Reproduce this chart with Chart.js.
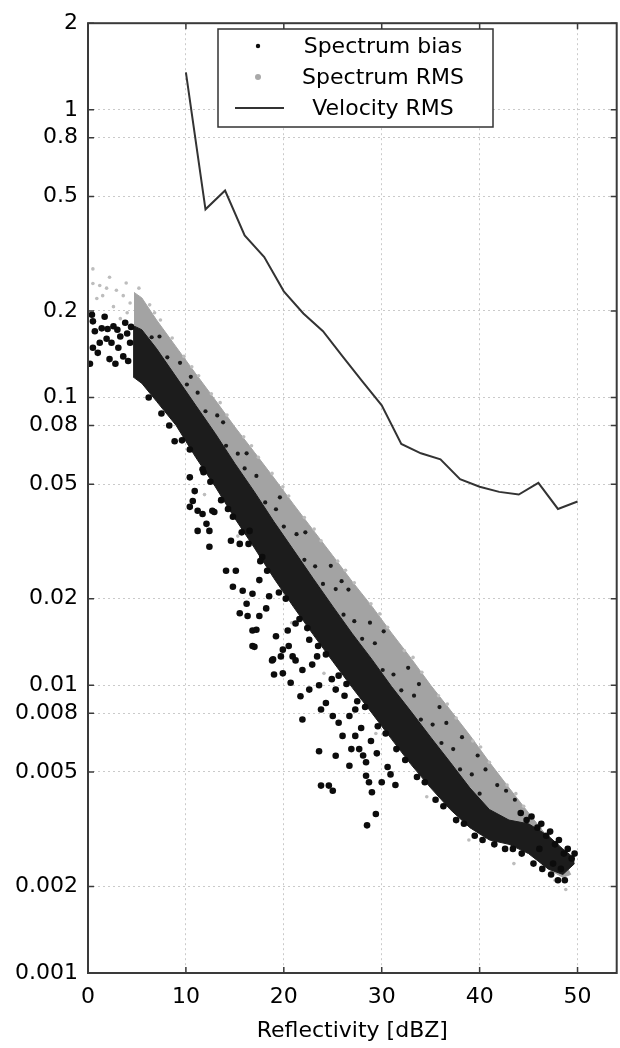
<!DOCTYPE html>
<html>
<head>
<meta charset="utf-8">
<title>Spectrum bias / RMS vs reflectivity</title>
<script src="https://cdn.jsdelivr.net/npm/chart.js@4.4.1/dist/chart.umd.min.js"></script>
<style>
  html, body { margin: 0; padding: 0; background: #fff; }
  canvas { display: block; }
</style>
</head>
<body>
<canvas id="chart" width="620" height="1048"></canvas>
<script>
// ---- axis ticks ----
const xTicks = [0, 10, 20, 30, 40, 50];
const yTicks = [2, 1, 0.8, 0.5, 0.2, 0.1, 0.08, 0.05, 0.02, 0.01, 0.008, 0.005, 0.002, 0.001];
const yTickLabels = ["2", "1", "0.8", "0.5", "0.2", "0.1", "0.08", "0.05", "0.02", "0.01", "0.008", "0.005", "0.002", "0.001"];

// ---- Velocity RMS (line) ----
const velX = [10, 12, 14, 16, 18, 20, 22, 24, 26, 28, 30, 32, 34, 36, 38, 40, 42, 44, 46, 48, 50];
const velY = [1.35, 0.451, 0.524, 0.366, 0.308, 0.234, 0.196, 0.170, 0.139, 0.114, 0.094, 0.069, 0.064, 0.061, 0.052, 0.049, 0.047, 0.046, 0.0505, 0.041, 0.0435];

// ---- Spectrum RMS: dense core of the cloud (upper / lower envelope) ----
const rmsEdgeX = [4.7, 5.5, 7, 9, 11, 13, 15, 17, 19, 21, 23, 25, 27, 29, 31, 33, 35, 37, 39, 41, 43, 45, 47, 48.5, 49.3];
const rmsTop = [0.232, 0.222, 0.186, 0.150, 0.121, 0.098, 0.079, 0.0645, 0.0525, 0.0425, 0.0346, 0.0282, 0.0229, 0.0188, 0.0152, 0.0124, 0.0100, 0.0082, 0.0067, 0.0054, 0.0044, 0.0036, 0.00295, 0.0025, 0.0022];
const rmsBottom = [0.18, 0.17, 0.14, 0.114, 0.091, 0.073, 0.058, 0.046, 0.037, 0.029, 0.023, 0.0184, 0.0147, 0.0119, 0.0096, 0.0078, 0.0063, 0.0052, 0.0042, 0.0035, 0.0029, 0.0026, 0.0023, 0.00215, 0.0022];

// loose light dots around the core [x, y]
const rmsDots = [
  [0.5, 0.28], [0.5, 0.249], [1.2, 0.245], [1.9, 0.24], [0.9, 0.221], [2.9, 0.236], [3.6, 0.226],
  [2.6, 0.207], [1.5, 0.226], [3.3, 0.188], [4.3, 0.213], [4.0, 0.197], [2.2, 0.262], [3.9, 0.25],
  [5.2, 0.240], [6.3, 0.210], [7.4, 0.186], [8.6, 0.161], [9.8, 0.139], [11.3, 0.119], [12.6, 0.103],
  [14.2, 0.087], [15.9, 0.073], [17.4, 0.062], [18.8, 0.0545], [20.5, 0.0455], [22.1, 0.0383],
  [23.8, 0.0318], [25.5, 0.027], [27.2, 0.0227], [28.9, 0.0192], [30.6, 0.0159], [32.3, 0.0132],
  [34.1, 0.0111], [35.8, 0.0092], [37.6, 0.0077], [39.3, 0.0064], [41.0, 0.0054], [42.8, 0.0045],
  [44.5, 0.0038], [46.2, 0.0032], [47.9, 0.0027], [47.7, 0.0021], [48.8, 0.00195],
  [6.8, 0.197], [10.6, 0.128], [13.5, 0.096], [16.7, 0.068], [19.9, 0.049], [23.1, 0.0349],
  [26.3, 0.0251], [29.8, 0.0177], [33.2, 0.0125], [36.7, 0.0086], [40.1, 0.0061], [43.7, 0.0042],
  [11.9, 0.046], [15.3, 0.033], [20.8, 0.0165], [24.1, 0.011], [29.4, 0.0068], [34.6, 0.0041],
  [38.9, 0.0029], [43.5, 0.0024]
];

// ---- Spectrum bias: dense core of the cloud ----
const biasEdgeX = [4.6, 5.5, 7, 9, 11, 13, 15, 17, 19, 21, 23, 25, 27, 29, 31, 33, 35, 37, 39, 41, 43, 45, 47, 48.5, 49.7];
const biasTop = [0.178, 0.172, 0.148, 0.118, 0.094, 0.075, 0.059, 0.047, 0.037, 0.0295, 0.0235, 0.0188, 0.0151, 0.0123, 0.0099, 0.0081, 0.0066, 0.0054, 0.0044, 0.0037, 0.0034, 0.0033, 0.003, 0.0027, 0.0025];
const biasBottom = [0.118, 0.112, 0.097, 0.080, 0.062, 0.049, 0.038, 0.030, 0.0235, 0.0187, 0.0150, 0.0121, 0.0098, 0.0080, 0.0065, 0.0053, 0.0044, 0.0037, 0.0032, 0.0029, 0.0028, 0.0026, 0.0023, 0.0022, 0.0024];

// points below 5 dBZ
const biasLeft = [
  [0.4, 0.194], [0.5, 0.184], [0.2, 0.131], [0.7, 0.170], [1.7, 0.191], [1.2, 0.155], [1.0, 0.143],
  [2.6, 0.177], [2.4, 0.155], [3.3, 0.163], [2.2, 0.136], [3.6, 0.139], [4.0, 0.167], [2.0, 0.173],
  [3.1, 0.149], [4.3, 0.155], [1.4, 0.174], [0.5, 0.149], [2.8, 0.131], [4.1, 0.134], [3.8, 0.182],
  [4.4, 0.176], [3.0, 0.172], [1.9, 0.160]
];
// scattered low values
const biasOutliers = [
  [8.85, 0.0705], [10.4, 0.0528], [10.9, 0.0473], [10.7, 0.0437], [10.4, 0.0417], [11.2, 0.0404],
  [11.7, 0.0394], [12.1, 0.0364], [12.7, 0.0404], [11.2, 0.0344], [12.4, 0.0344], [11.7, 0.0563],
  [12.9, 0.040], [12.4, 0.0303], [14.8, 0.0385], [14.6, 0.0318], [15.5, 0.031], [16.5, 0.0344],
  [14.1, 0.025], [15.1, 0.025], [14.8, 0.022], [15.8, 0.0213], [16.2, 0.0192], [15.5, 0.0178],
  [16.3, 0.0174], [16.8, 0.0155], [16.8, 0.0137], [17.5, 0.0174], [18.5, 0.0204], [19.2, 0.0148],
  [19.7, 0.0126], [18.8, 0.0122], [20.5, 0.0137], [21.2, 0.0122], [21.9, 0.0113], [19.9, 0.011],
  [22.6, 0.0144], [23.4, 0.0126], [21.2, 0.0164], [17.8, 0.0279], [17.5, 0.0232], [16.8, 0.0208],
  [17.2, 0.0156], [17.0, 0.0136], [18.9, 0.0123], [19.0, 0.0109], [19.9, 0.0133], [20.9, 0.0126],
  [20.7, 0.0102], [21.7, 0.00916], [21.9, 0.0076], [22.6, 0.00966], [23.6, 0.0100], [23.8, 0.00824],
  [24.3, 0.00868], [25.3, 0.00966], [25.0, 0.00782], [25.6, 0.00741], [26.0, 0.00667], [26.7, 0.00782],
  [27.3, 0.00824], [27.3, 0.00667], [23.6, 0.0059], [25.3, 0.00569], [26.7, 0.00525], [27.7, 0.0060],
  [28.4, 0.0054], [28.4, 0.00485], [28.7, 0.0046], [29.0, 0.00425], [29.4, 0.00357], [28.5, 0.00326],
  [30.0, 0.0046], [23.8, 0.00448], [25.0, 0.0043], [24.6, 0.00448], [26.2, 0.0092], [27.9, 0.0071],
  [28.9, 0.0064], [29.5, 0.0058], [30.6, 0.0052], [24.9, 0.0105], [22.9, 0.0118], [20.4, 0.0155],
  [18.2, 0.0185], [26.9, 0.0060], [28.1, 0.0057], [30.9, 0.0049], [31.4, 0.0045]
];
// ragged lower edge of the core
const biasEdge = [
  [6.2, 0.100], [7.5, 0.088], [8.3, 0.080], [9.6, 0.071], [10.4, 0.066], [11.8, 0.055], [12.5, 0.051],
  [13.6, 0.044], [14.3, 0.041], [15.7, 0.034], [16.4, 0.031], [17.6, 0.027], [18.3, 0.025], [19.5, 0.021],
  [20.2, 0.020], [21.6, 0.0170], [22.4, 0.0158], [23.5, 0.0137], [24.3, 0.0128], [25.6, 0.0108],
  [26.4, 0.0101], [27.5, 0.0088], [28.3, 0.0084], [29.6, 0.0072], [30.4, 0.0068], [31.5, 0.0060],
  [32.4, 0.0055], [33.6, 0.0048], [34.4, 0.0046], [35.5, 0.0040], [36.3, 0.0038], [37.6, 0.0034],
  [38.4, 0.0033], [39.5, 0.0030], [40.3, 0.0029], [41.5, 0.0028], [42.6, 0.0027], [43.4, 0.0027],
  [44.3, 0.0026], [45.5, 0.0024], [46.4, 0.0023], [47.3, 0.0022], [48.0, 0.0021], [48.7, 0.0021]
];
// end of the cloud, 44-50 dBZ
const biasTail = [
  [44.2, 0.0036], [44.8, 0.0034], [45.3, 0.0035], [45.9, 0.0032], [46.3, 0.0033], [46.8, 0.0030],
  [47.2, 0.0031], [47.7, 0.0028], [48.1, 0.0029], [48.6, 0.0026], [49.0, 0.0027], [49.4, 0.0025],
  [49.7, 0.0026], [48.3, 0.0023], [47.5, 0.0024], [46.1, 0.0027]
];
// small dark dots over the RMS core (ragged boundary between the two clouds)
const biasSpecks = [
  [10.5, 0.118], [13.8, 0.082], [16.2, 0.064], [19.6, 0.045], [22.2, 0.034], [24.8, 0.026],
  [25.9, 0.023], [26.6, 0.0215], [28.8, 0.0165], [30.2, 0.0154], [32.7, 0.0115], [33.8, 0.0101],
  [35.9, 0.0084], [36.6, 0.0074], [38.2, 0.0066], [39.8, 0.0057], [40.6, 0.0051], [41.8, 0.0045],
  [42.7, 0.0043], [43.6, 0.0040],
  [6.5, 0.162], [7.3, 0.163], [8.1, 0.138], [9.4, 0.132], [10.1, 0.111], [11.2, 0.104], [12.0, 0.0896],
  [13.2, 0.0867], [14.1, 0.068], [15.3, 0.0638], [16.0, 0.0567], [17.2, 0.0534], [18.1, 0.0432],
  [19.2, 0.0409], [20.0, 0.0356], [21.3, 0.0335], [22.1, 0.0273], [23.2, 0.0259], [24.0, 0.0225],
  [25.3, 0.0216], [26.1, 0.0176], [27.2, 0.0167], [28.0, 0.0145], [29.3, 0.0140], [30.1, 0.0113],
  [31.2, 0.0109], [32.0, 0.0096], [33.3, 0.0092], [34.0, 0.0076], [35.2, 0.0073], [36.1, 0.0063],
  [37.3, 0.0060], [38.0, 0.0051], [39.2, 0.0049], [40.0, 0.0042]
];

const toXY = (pts) => pts.map(([x, y]) => ({ x, y }));
const zipXY = (xs, ys) => xs.map((x, i) => ({ x, y: ys[i] }));

const FONT = { family: "'DejaVu Sans', sans-serif", size: 22 };
const TEXT = "#000";
const GRID = "#cacaca";

const dotSet = (label, data, color, radius, order, legendMark) => ({
  label, data, order, legendMark,
  showLine: false,
  pointRadius: radius,
  pointBackgroundColor: color,
  pointBorderWidth: 0,
  pointHoverRadius: radius,
});

const edgeSet = (data, color, fill, order) => ({
  label: "", data, order, fill,
  backgroundColor: color,
  borderColor: color,
  borderWidth: 1,
  pointRadius: 0,
  tension: 0,
});

const datasets = [
  {
    label: "Velocity RMS",
    data: zipXY(velX, velY),
    order: 0,
    legendMark: "line",
    borderColor: "#333",
    borderWidth: 2,
    pointRadius: 0,
    fill: false,
    tension: 0,
  },
  dotSet("Spectrum bias", toXY([...biasLeft, ...biasOutliers, ...biasEdge, ...biasTail]), "#0c0c0c", 3.3, 1, "dot"),
  dotSet("", toXY(biasSpecks), "#1a1a1a", 2.1, 1, null),
  edgeSet(zipXY(biasEdgeX, biasTop), "#1c1c1c", "+1", 2),
  edgeSet(zipXY(biasEdgeX, biasBottom), "#1c1c1c", false, 2),
  dotSet("Spectrum RMS", toXY(rmsDots), "#bdbdbd", 1.8, 3, "dot"),
  edgeSet(zipXY(rmsEdgeX, rmsTop), "#a3a3a3", "+1", 4),
  edgeSet(zipXY(rmsEdgeX, rmsBottom), "#a3a3a3", false, 4),
];

// frame with inward ticks + boxed legend (MATLAB look)
const frameAndLegend = {
  id: "frameAndLegend",
  afterDatasetsDraw(chart) {
    const { ctx, chartArea: a, scales: { x, y } } = chart;
    ctx.save();
    ctx.strokeStyle = "#3a3a3a";
    ctx.lineWidth = 1.5;
    ctx.beginPath();
    yTicks.forEach((v) => {
      const py = y.getPixelForValue(v);
      ctx.moveTo(a.left, py); ctx.lineTo(a.left + 6, py);
      ctx.moveTo(a.right, py); ctx.lineTo(a.right - 6, py);
    });
    xTicks.forEach((v) => {
      const px = x.getPixelForValue(v);
      ctx.moveTo(px, a.bottom); ctx.lineTo(px, a.bottom - 6);
      ctx.moveTo(px, a.top); ctx.lineTo(px, a.top + 6);
    });
    ctx.stroke();
    ctx.lineWidth = 2;
    ctx.strokeRect(a.left, a.top, a.right - a.left, a.bottom - a.top);
    ctx.restore();
  },
  afterDraw(chart) {
    const { ctx } = chart;
    const box = { left: 218, top: 29, right: 493, bottom: 127 };
    const rows = [46, 77, 108];
    const names = ["Spectrum bias", "Spectrum RMS", "Velocity RMS"];
    const entries = chart.data.datasets
      .filter((d) => d.legendMark)
      .sort((p, q) => names.indexOf(p.label) - names.indexOf(q.label));
    ctx.save();
    ctx.fillStyle = "#fff";
    ctx.fillRect(box.left, box.top, box.right - box.left, box.bottom - box.top);
    ctx.strokeStyle = "#333";
    ctx.lineWidth = 1.5;
    ctx.strokeRect(box.left, box.top, box.right - box.left, box.bottom - box.top);
    ctx.font = `${FONT.size}px ${FONT.family}`;
    ctx.textAlign = "center";
    ctx.textBaseline = "middle";
    entries.forEach((d, i) => {
      const cy = rows[i];
      if (d.legendMark === "line") {
        ctx.strokeStyle = d.borderColor;
        ctx.lineWidth = d.borderWidth;
        ctx.beginPath();
        ctx.moveTo(235, cy); ctx.lineTo(284, cy);
        ctx.stroke();
      } else {
        const rms = d.label === "Spectrum RMS";
        ctx.fillStyle = rms ? "#a9a9a9" : d.pointBackgroundColor;
        ctx.beginPath();
        ctx.arc(258, cy, rms ? 3 : 2.2, 0, Math.PI * 2);
        ctx.fill();
      }
      ctx.fillStyle = TEXT;
      ctx.fillText(d.label, 383, cy + 1);
    });
    ctx.restore();
  },
};

new Chart(document.getElementById("chart"), {
  type: "line",
  data: { datasets },
  options: {
    responsive: false,
    animation: false,
    devicePixelRatio: 1,
    layout: { padding: { top: 14, right: 2, left: 0, bottom: 0 } },
    plugins: {
      legend: { display: false },
      tooltip: { enabled: false },
    },
    scales: {
      x: {
        type: "linear",
        min: 0,
        max: 54,
        afterBuildTicks: (s) => { s.ticks = xTicks.map((v) => ({ value: v })); },
        afterFit: (s) => { s.height = 75; },
        grid: { color: GRID, drawTicks: false },
        border: { display: false, dash: [2, 3] },
        ticks: { font: FONT, color: TEXT, padding: 11, maxRotation: 0 },
        title: {
          display: true,
          text: "Reflectivity [dBZ]",
          font: FONT,
          color: TEXT,
          padding: { top: 0, bottom: 4 },
        },
      },
      y: {
        type: "logarithmic",
        min: 0.001,
        max: 2,
        afterBuildTicks: (s) => { s.ticks = yTicks.map((v) => ({ value: v })); },
        afterFit: (s) => { s.width = 88; },
        grid: { color: GRID, drawTicks: false },
        border: { display: false, dash: [2, 3] },
        ticks: {
          font: FONT,
          color: TEXT,
          padding: 10,
          autoSkip: false,
          callback: (v) => yTickLabels[yTicks.indexOf(v)],
        },
      },
    },
  },
  plugins: [frameAndLegend],
});
</script>
</body>
</html>
